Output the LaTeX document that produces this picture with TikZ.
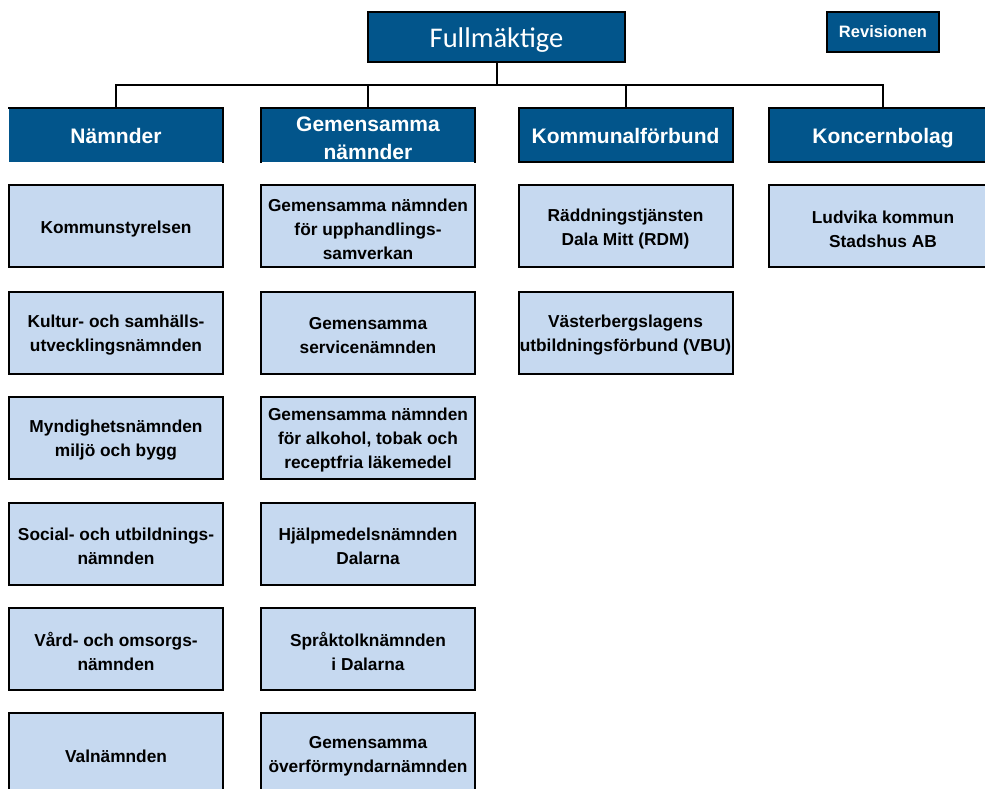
\documentclass[tikz,border=0pt]{standalone}
\usepackage{fontspec}
\setmainfont{Liberation Sans}
\newfontfamily\fullfont{Carlito}
\definecolor{dblue}{HTML}{02558B}
\definecolor{lblue}{HTML}{C6D9F0}
\begin{document}
\begin{tikzpicture}[x=1pt,y=-1pt,
 top/.style={draw=black,line width=2pt,fill=dblue,text=white,inner sep=0pt},
 hdrbox/.style={fill=dblue,minimum width=214pt,minimum height=54pt,inner sep=0pt},
 hdrline/.style={line width=2pt,line cap=rect},
 hdrtext/.style={text=white,font=\fontsize{21}{28}\selectfont\bfseries,align=center,inner sep=0pt},
 itembox/.style={draw=black,line width=2pt,fill=lblue,minimum width=214pt,minimum height=82pt,inner sep=0pt},
 itemtext/.style={text=black,font=\fontsize{17.3}{24}\selectfont\bfseries,align=center,inner sep=0pt},
 conn/.style={line width=2pt}]
\useasboundingbox (0,0) rectangle (985,789);
% top
\node[top,minimum width=257pt,minimum height=50pt,text height=22pt,text depth=0pt,font=\fullfont\fontsize{28.5}{30}\selectfont] (full) at (496.5,37) {Fullmäktige};
\node[top,minimum width=112pt,minimum height=40pt,font=\fontsize{16.5}{20}\selectfont\bfseries] (rev) at (883,32) {Revisionen};
% headers
\node[hdrbox] (namn) at (116,135) {};
\node[hdrbox] (gem) at (368,135) {};
\node[hdrbox,draw=black,line width=2pt] (kom) at (625.5,135) {};
\node[hdrbox,draw=black,line width=2pt,minimum width=228pt] (kon) at (883,135) {};
\draw[hdrline] (namn.north west) -- (namn.north east) -- (namn.south east);
\draw[hdrline] (gem.south west) -- (gem.north west) -- (gem.north east) -- (gem.south east);
\node[hdrtext,text height=15pt,text depth=0pt] (namnt) at ([yshift=-1pt]namn.center) {Nämnder};
\node[hdrtext] (gemt) at ([yshift=-3.5pt]gem.center) {Gemensamma\\nämnder};
\node[hdrtext,text height=15pt,text depth=0pt] (komt) at ([yshift=-1pt]kom.center) {Kommunalförbund};
\node[hdrtext,text height=15pt,text depth=0pt] (kont) at ([yshift=-1pt]kon.center) {Koncernbolag};
% connectors
\path (full.south) ++(0,22) coordinate (bus);
\draw[conn] (full.south) -- (bus);
\draw[conn] (namn.north) |- (bus -| kon.north) -- (kon.north);
\draw[conn] (gem.north) -- (gem.north |- bus);
\draw[conn] (kom.north) -- (kom.north |- bus);
% boxes
\node[itembox] (n1) at (116,226) {};
\node[itembox] (n2) at (116,332.5) {};
\node[itembox] (n3) at (116,437.5) {};
\node[itembox] (n4) at (116,543.5) {};
\node[itembox] (n5) at (116,648.5) {};
\node[itembox] (n6) at (116,753.5) {};
\node[itembox] (g1) at (368,226) {};
\node[itembox] (g2) at (368,332.5) {};
\node[itembox] (g3) at (368,437.5) {};
\node[itembox] (g4) at (368,543.5) {};
\node[itembox] (g5) at (368,648.5) {};
\node[itembox] (g6) at (368,753.5) {};
\node[itembox] (k1) at (625.5,226) {};
\node[itembox] (k2) at (625.5,332.5) {};
\node[itembox,minimum width=228pt] (b1) at (883,226) {};
% texts
\node[itemtext] (n1t) at ([yshift=-3pt]n1.center) {Kommunstyrelsen};
\node[itemtext] (n2t) at ([yshift=-3pt]n2.center) {Kultur- och samhälls-\\utvecklingsnämnden};
\node[itemtext] (n3t) at ([yshift=-3pt]n3.center) {Myndighetsnämnden\\miljö och bygg};
\node[itemtext] (n4t) at ([yshift=-3pt]n4.center) {Social- och utbildnings-\\nämnden};
\node[itemtext] (n5t) at ([yshift=-3pt]n5.center) {Vård- och omsorgs-\\nämnden};
\node[itemtext] (n6t) at ([yshift=-3pt]n6.center) {Valnämnden};
\node[itemtext] (g1t) at ([yshift=-3pt]g1.center) {Gemensamma nämnden\\för upphandlings-\\samverkan};
\node[itemtext] (g2t) at ([yshift=-3pt]g2.center) {Gemensamma\\servicenämnden};
\node[itemtext] (g3t) at ([yshift=-3pt]g3.center) {Gemensamma nämnden\\för alkohol, tobak och\\receptfria läkemedel};
\node[itemtext] (g4t) at ([yshift=-3pt]g4.center) {Hjälpmedelsnämnden\\Dalarna};
\node[itemtext] (g5t) at ([yshift=-3pt]g5.center) {Språktolknämnden\\i Dalarna};
\node[itemtext] (g6t) at ([yshift=-3pt]g6.center) {Gemensamma\\överförmyndarnämnden};
\node[itemtext] (k1t) at ([yshift=-3pt]k1.center) {Räddningstjänsten\\Dala Mitt (RDM)};
\node[itemtext] (k2t) at ([yshift=-3pt]k2.center) {Västerbergslagens\\utbildningsförbund (VBU)};
\node[itemtext] (b1t) at ([yshift=-3pt]b1.center) {Ludvika kommun\\Stadshus AB};
\end{tikzpicture}
\end{document}
